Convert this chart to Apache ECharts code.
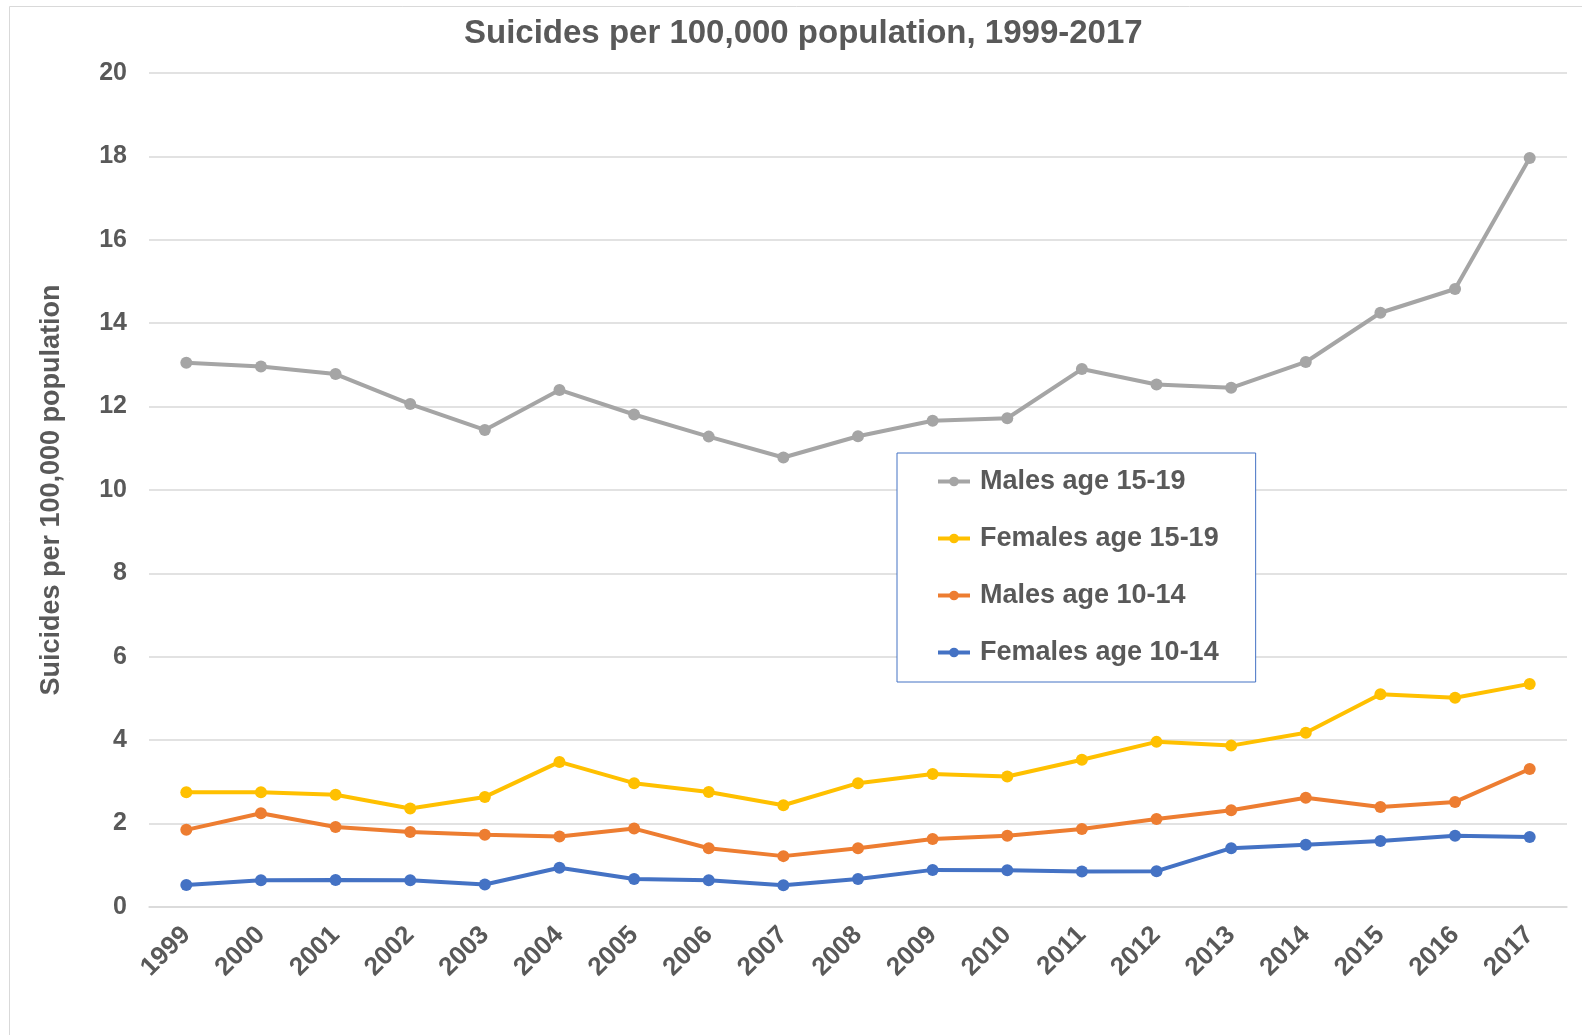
<!DOCTYPE html>
<html>
<head>
<meta charset="utf-8">
<title>Suicides per 100,000 population</title>
<script src="https://cdn.jsdelivr.net/npm/echarts@6/dist/echarts.min.js"></script>
<style>
	html,body{margin:0;padding:0;background:#fff;}
	#main{width:1582px;height:1035px;}
</style>
</head>
<body>
<div id="main"></div>
<script>
// categories (years)
var years = ['1999','2000','2001','2002','2003','2004','2005','2006','2007','2008',
	'2009','2010','2011','2012','2013','2014','2015','2016','2017'];

// values
var malesOlder = [13.05,12.96,12.78,12.06,11.44,12.40,11.81,11.28,10.78,11.29,
	11.66,11.72,12.90,12.53,12.45,13.07,14.25,14.82,17.96];
var femalesOlder = [2.75,2.75,2.69,2.36,2.64,3.48,2.97,2.76,2.44,2.97,
	3.19,3.13,3.53,3.96,3.87,4.18,5.10,5.02,5.35];
var malesYounger = [1.85,2.25,1.92,1.80,1.73,1.69,1.88,1.41,1.22,1.41,
	1.63,1.71,1.87,2.11,2.32,2.62,2.40,2.52,3.31];
var femalesYounger = [0.53,0.64,0.65,0.64,0.54,0.94,0.67,0.64,0.52,0.67,
	0.89,0.88,0.85,0.86,1.41,1.49,1.58,1.71,1.68];

var seriesNames = ['Males age 15-19','Females age 15-19','Males age 10-14','Females age 10-14'];
var seriesColors = ['#A5A5A5','#FFC000','#ED7D31','#4472C4'];
var seriesData = [malesOlder, femalesOlder, malesYounger, femalesYounger];

var fontName = "'Liberation Sans', Arial, sans-serif";
var textColor = '#595959';

var Series = [];
for (var i = 0; i < seriesNames.length; i++) {
	Series.push({
		name: seriesNames[i],
		type: 'line',
		data: seriesData[i],
		symbol: 'circle',
		symbolSize: 12,
		color: seriesColors[i],
		lineStyle: { width: 4 },
		emphasis: { disabled: true }
	});
}

var chart = echarts.init(document.getElementById('main'));
var option = {
	animation: false,
	backgroundColor: '#fff',
	title: {
		text: 'Suicides per 100,000 population, 1999-2017',
		left: 459,
		top: 12,
		textStyle: { fontFamily: fontName, fontSize: 33, fontWeight: 'bold', color: textColor }
	},
	graphic: [{
		type: 'rect',
		shape: { x: 9.5, y: 6.5, width: 1600, height: 1100 },
		style: { fill: 'none', stroke: '#D9D9D9', lineWidth: 1 },
		silent: true
	}],
	legend: {
		data: seriesNames,
		orient: 'vertical',
		left: 897,
		top: 453,
		padding: [15, 37, 16, 39],
		itemGap: 30,
		itemWidth: 32,
		itemHeight: 12,
		backgroundColor: '#fff',
		borderColor: '#4472C4',
		borderWidth: 1,
		borderRadius: 0,
		lineStyle: { width: 4 },
		textStyle: { fontFamily: fontName, fontSize: 27, fontWeight: 'bold', color: textColor, padding: [0, 0, 0, 5] }
	},
	grid: {
		left: 149,
		right: 15,
		top: 73,
		height: 834,
		containLabel: false
	},
	xAxis: {
		type: 'category',
		data: years,
		boundaryGap: true,
		axisLine: { show: true, lineStyle: { color: '#D9D9D9', width: 1.5 } },
		axisTick: { show: false },
		axisLabel: { rotate: 45, margin: 24, fontFamily: fontName, fontSize: 26, fontWeight: 'bold', color: textColor }
	},
	yAxis: {
		type: 'value',
		min: 0,
		max: 20,
		interval: 2,
		name: 'Suicides per 100,000 population',
		nameLocation: 'middle',
		nameGap: 84,
		nameTextStyle: { fontFamily: fontName, fontSize: 27, fontWeight: 'bold', color: textColor },
		axisLine: { show: false },
		axisTick: { show: false },
		axisLabel: { margin: 22, fontFamily: fontName, fontSize: 25, fontWeight: 'bold', color: textColor },
		splitLine: { lineStyle: { color: '#D9D9D9', width: 1.5 } }
	},
	series: Series
};
chart.setOption(option);
</script>
</body>
</html>
